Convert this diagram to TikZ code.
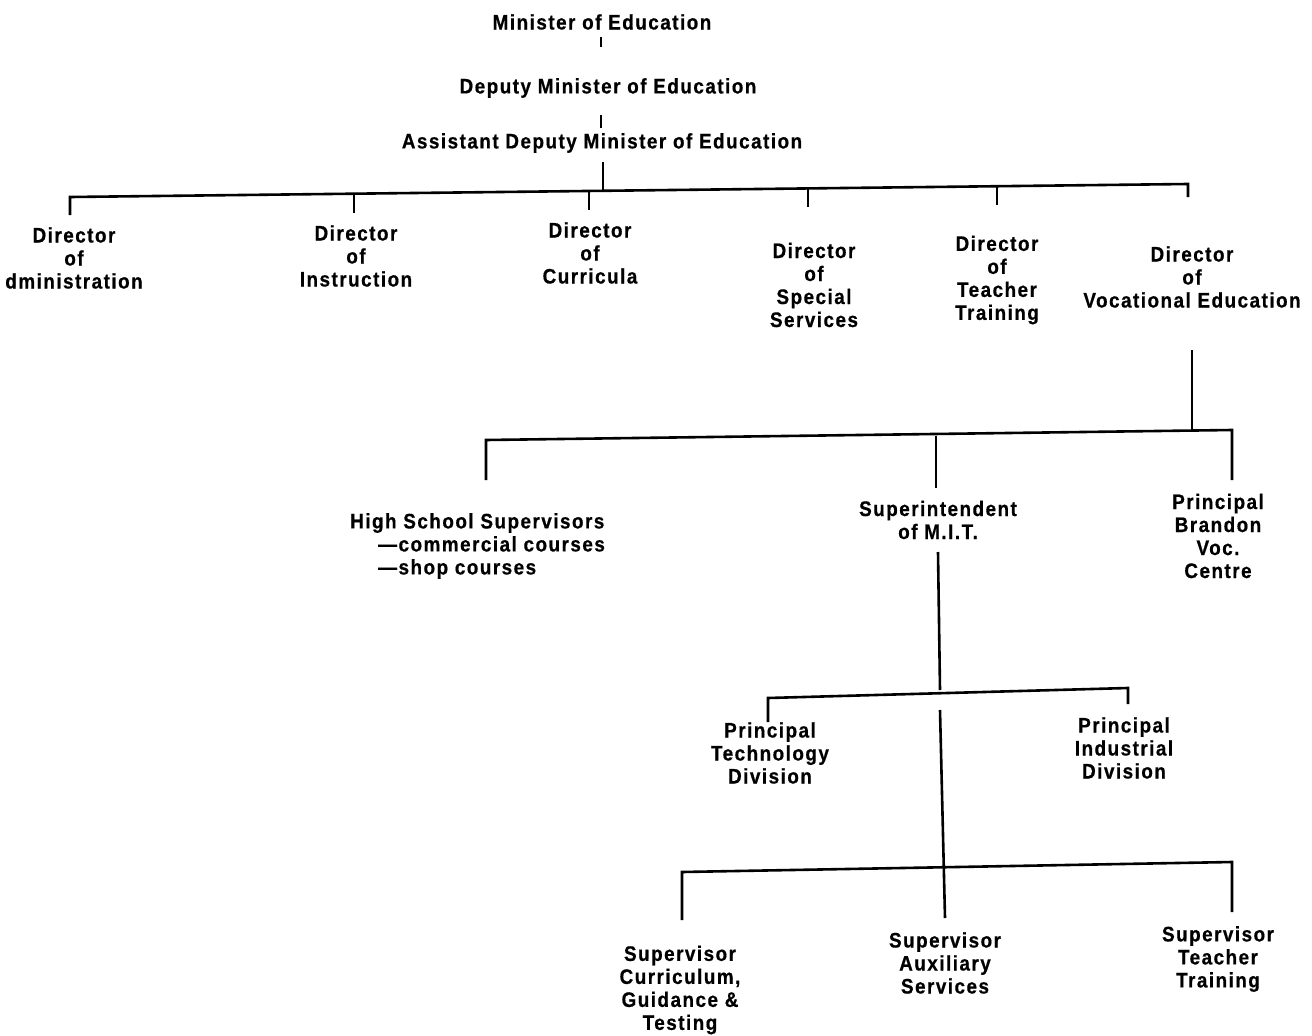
\documentclass[tikz,border=0pt]{standalone}
\usepackage{fontspec}
\newfontfamily\chartfont{Liberation Sans}[LetterSpace=7,FakeStretch=0.9,BoldFeatures={FakeBold=0.6}]
\begin{document}
\begin{tikzpicture}[x=1pt,y=-1pt,
  lbl/.style={font=\chartfont\bfseries\fontsize{21}{23}\selectfont, align=center, inner sep=0pt},
  link/.style={line width=2.6pt}]
\useasboundingbox (0,0) rectangle (1312,1036);

% ---- ministry ----
\node[lbl] (min) at (602,22) {Minister of Education};
\node[lbl] (dep) at (608,88) {Deputy Minister of Education};
\node[lbl] (adm) at (602,143) {Assistant Deputy Minister of Education};

% ---- directors ----
\node[lbl] (dadm) at (74,258) {Director\\of\\dministration};
\node[lbl] (dins) at (356,256) {Director\\of\\Instruction};
\node[lbl] (dcur) at (590,253) {Director\\of\\Curricula};
\node[lbl] (dspe) at (814,285) {Director\\of\\Special\\Services};
\node[lbl] (dtea) at (997,280) {Director\\of\\Teacher\\Training};
\node[lbl] (dvoc) at (1192,277) {Director\\of\\Vocational Education};

% ---- vocational education ----
\node[lbl, align=left, anchor=west] (hss) at (350,546)
  {High School Supervisors\\\hspace*{28pt}—commercial courses\\\hspace*{28pt}—shop courses};
\node[lbl] (sup) at (938,520) {Superintendent\\of M.I.T.};
\node[lbl] (pbv) at (1218,536) {Principal\\Brandon\\Voc.\\Centre};

% ---- M.I.T. ----
\node[lbl] (ptd) at (770,753) {Principal\\Technology\\Division};
\node[lbl] (pid) at (1124,748) {Principal\\Industrial\\Division};
\node[lbl] (scg) at (680,990) {Supervisor\\Curriculum,\\Guidance \&\\Testing};
\node[lbl] (sas) at (945,963) {Supervisor\\Auxiliary\\Services};
\node[lbl] (stt) at (1218,959) {Supervisor\\Teacher\\Training};

% ---- junction points ----
\coordinate (t1a) at (601,37);  \coordinate (t1b) at (601,47);
\coordinate (t2a) at (601,115); \coordinate (t2b) at (601,128);
\coordinate (a0) at (603,162);  \coordinate (a1) at (603,191);
\coordinate (bL) at (70,197);   \coordinate (bR) at (1188,184);
\coordinate (j1) at (354,194);  \coordinate (j2) at (589,191);
\coordinate (j3) at (808,188.5);\coordinate (j4) at (997,186);

\coordinate (v0) at (1192,350); \coordinate (v1) at (1192,431);
\coordinate (cL) at (486,440);  \coordinate (cR) at (1232,430);
\coordinate (cM) at (936,436);

\coordinate (m0) at (938,552);  \coordinate (m1) at (940,690);
\coordinate (dL) at (768,698);  \coordinate (dR) at (1128,688);
\coordinate (m2) at (940,710);  \coordinate (m3) at (945,918);
\coordinate (eL) at (682,872);  \coordinate (eR) at (1232,862);

% ---- connectors ----
\draw[link] (t1a) -- (t1b);
\draw[link] (t2a) -- (t2b);
\draw[link] (a0) -- (a1);
\draw[link] (bL) ++(0,18) -- (bL) -- (bR) -- ++(0,13);
\draw[link] (j1) -- ++(0,19);
\draw[link] (j2) -- ++(0,19);
\draw[link] (j3) -- ++(0,18);
\draw[link] (j4) -- ++(0,19);

\draw[link] (v0) -- (v1);
\draw[link] (cL) ++(0,40) -- (cL) -- (cR) -- ++(0,50);
\draw[link] (cM) -- ++(0,52);

\draw[link] (m0) -- (m1);
\draw[link] (dL) ++(0,24) -- (dL) -- (dR) -- ++(0,16);
\draw[link] (m2) -- (m3);
\draw[link] (eL) ++(0,48) -- (eL) -- (eR) -- ++(0,50);
\end{tikzpicture}
\end{document}
